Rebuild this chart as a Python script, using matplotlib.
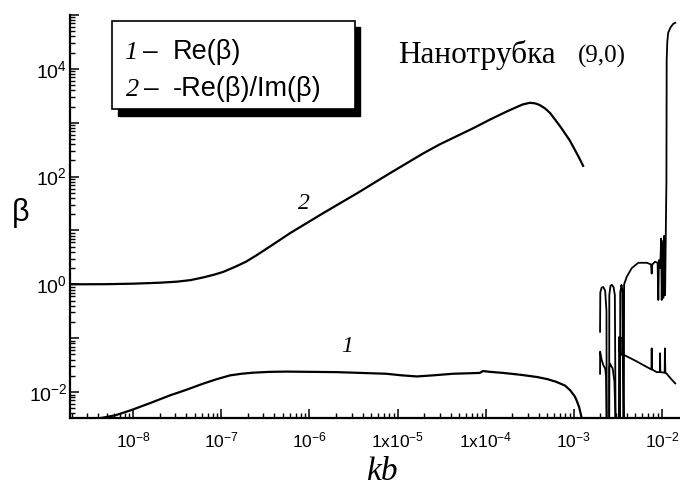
import numpy as np
import matplotlib
matplotlib.use("Agg")
from matplotlib import pyplot as plt
from matplotlib.patches import Rectangle
from matplotlib.ticker import FixedLocator, FixedFormatter, LogLocator, NullFormatter

plt.rcParams["font.family"] = ["Liberation Sans", "DejaVu Sans"]
plt.rcParams["mathtext.fontset"] = "custom"
plt.rcParams["mathtext.rm"] = "Liberation Sans"
plt.rcParams["mathtext.it"] = "Liberation Sans:italic"
plt.rcParams["mathtext.default"] = "regular"

# Data, as log10 values
# curve 2: -Re(beta)/Im(beta), smooth part
c2_kb = [-8.72, -8.3, -8.0, -7.7, -7.5, -7.35, -7.2, -7.08, -6.98, -6.85, -6.72,
         -6.6, -6.45, -6.22, -5.846, -5.46, -5.09, -4.71, -4.52, -4.14, -3.95,
         -3.76, -3.65, -3.58, -3.50, -3.44, -3.39, -3.33, -3.27, -3.20, -3.15,
         -3.10, -3.05, -3.01, -2.95, -2.895]
c2_beta = [0.0, 0.003, 0.012, 0.03, 0.05, 0.078, 0.13, 0.18, 0.23, 0.32, 0.42,
           0.54, 0.70, 0.95, 1.32, 1.69, 2.06, 2.43, 2.60, 2.90, 3.06,
           3.21, 3.29, 3.34, 3.37, 3.36, 3.33, 3.27, 3.18, 3.03, 2.92,
           2.80, 2.68, 2.56, 2.38, 2.20]

# curve 2, noisy part above 2e-3
c2n_kb = [-2.703, -2.700, -2.685, -2.666, -2.645, -2.630, -2.627,
          -2.600, -2.598, -2.585, -2.570, -2.550, -2.535, -2.525,
          -2.476, -2.474, -2.460, -2.450, -2.437,
          -2.433, -2.430, -2.400, -2.344, -2.269, -2.173, -2.125, -2.117, -2.110,
          -2.079, -2.050, -2.042, -2.035, -2.020, -2.010, -2.003, -1.995, -1.985,
          -1.975, -1.965, -1.955, -1.950, -1.947, -1.940, -1.930, -1.900, -1.870, -1.850]
c2n_beta = [-0.88, -0.15, -0.06, -0.05, -0.12, -0.5, -3.0,
            -3.0, -0.2, -0.03, -0.01, -0.05, -0.2, -3.0,
            -3.0, -0.15, -0.01, -0.1, -3.0,
            -3.0, 0.0, 0.14, 0.30, 0.40, 0.40, 0.37, 0.20, 0.37,
            0.42, 0.40, -0.29, 0.45, 0.30, 0.85, -0.29, 0.80, -0.25,
            0.90, -0.20, 1.25, 1.9, 4.17, 4.5, 4.67, 4.78, 4.84, 4.855]

# curve 1: Re(beta), smooth part
c1_kb = [-8.39, -8.2, -8.03, -7.8, -7.58, -7.4, -7.2, -7.05, -6.9, -6.77, -6.64,
         -6.45, -6.26, -5.69, -5.13, -4.95, -4.78, -4.6, -4.37, -4.07, -4.03,
         -3.95, -3.80, -3.6, -3.42, -3.30, -3.20, -3.10, -3.04, -2.99, -2.97,
         -2.94, -2.91]
c1_beta = [-2.49, -2.43, -2.34, -2.20, -2.06, -1.96, -1.84, -1.76, -1.69, -1.66, -1.64,
           -1.625, -1.62, -1.63, -1.66, -1.69, -1.71, -1.69, -1.66, -1.645, -1.61,
           -1.625, -1.645, -1.68, -1.72, -1.76, -1.81, -1.88, -1.97, -2.08, -2.15,
           -2.28, -2.49]

# curve 1, noisy part
c1n_kb = [-2.703, -2.702, -2.685, -2.666, -2.645, -2.635, -2.625,
          -2.600, -2.598, -2.590, -2.575, -2.560, -2.540, -2.520,
          -2.490, -2.487, -2.480, -2.470, -2.465, -2.440, -2.420, -2.300, -2.200,
          -2.120, -2.117, -2.113, -2.060, -2.025, -2.022, -2.019, -1.970, -1.967,
          -1.962, -1.947, -1.900, -1.850]
c1n_beta = [-1.66, -1.25, -1.40, -1.50, -1.56, -1.70, -3.0,
            -3.0, -1.55, -1.47, -1.52, -1.56, -1.8, -3.0,
            -3.0, -0.98, -1.25, -0.98, -1.30, -1.32, -1.32, -1.42, -1.51,
            -1.58, -1.19, -1.58, -1.63, -1.63, -1.28, -1.63, -1.64, -1.19,
            -1.64, -1.66, -1.75, -1.84]

xtick_vals = [1e-8, 1e-7, 1e-6, 1e-5, 1e-4, 1e-3, 1e-2]
xtick_labels = ["$10^{-8}$", "$10^{-7}$", "$10^{-6}$", "$1x10^{-5}$",
                "$1x10^{-4}$", "$10^{-3}$", "$10^{-2}$"]
ytick_vals = [1e-2, 1e-1, 1e0, 1e1, 1e2, 1e3, 1e4, 1e5]
ytick_labels = ["$10^{-2}$", "", "$10^{0}$", "", "$10^{2}$", "", "$10^{4}$", ""]

W, H = 680, 491


def px(x, y):
    return x / W, 1 - y / H


fig = plt.figure(figsize=(6.8, 4.91), dpi=100)
ax = fig.add_axes([70 / W, 1 - 418 / H, 1 - 70 / W, (418 - 15) / H])

ln = dict(color="black", lw=1.6, solid_joinstyle="round")
ax.plot(10.0 ** np.array(c2_kb), 10.0 ** np.array(c2_beta), **ln)
ax.plot(10.0 ** np.array(c2n_kb), 10.0 ** np.array(c2n_beta), color="black", lw=1.3)
ax.plot(10.0 ** np.array(c1_kb), 10.0 ** np.array(c1_beta), **ln)
ax.plot(10.0 ** np.array(c1n_kb), 10.0 ** np.array(c1n_beta), color="black", lw=1.3)

ax.set_xscale("log")
ax.set_yscale("log")
ax.set_xlim(1.92e-9, 1.6e-2)
ax.set_ylim(3.3e-3, 1e5)

for s in ["top", "right"]:
    ax.spines[s].set_visible(False)
for s in ["left", "bottom"]:
    ax.spines[s].set_linewidth(1.6)

ax.xaxis.set_major_locator(FixedLocator(xtick_vals))
ax.xaxis.set_major_formatter(FixedFormatter(xtick_labels))
ax.xaxis.set_minor_locator(LogLocator(base=10, subs=np.arange(2, 10), numticks=20))
ax.xaxis.set_minor_formatter(NullFormatter())
ax.yaxis.set_major_locator(FixedLocator(ytick_vals))
ax.yaxis.set_major_formatter(FixedFormatter(ytick_labels))
ax.yaxis.set_minor_locator(LogLocator(base=10, subs=np.arange(2, 10), numticks=20))
ax.yaxis.set_minor_formatter(NullFormatter())

ax.tick_params(which="major", direction="in", length=6.5, width=1.1)
ax.tick_params(which="minor", direction="in", length=3.5, width=1.0)
ax.tick_params(axis="x", which="major", pad=9, labelsize=12.5)
ax.tick_params(axis="y", which="major", pad=2, labelsize=14)

# axis titles
fig.text(*px(21, 213), "β", fontsize=22, ha="center", va="center")
fig.text(*px(382, 472), "kb", fontsize=24, ha="center", va="center",
         family="Liberation Serif", style="italic")

# curve labels
fig.text(*px(304, 204), "2", fontsize=17, ha="center", va="center",
         family="Liberation Serif", style="italic")
fig.text(*px(347, 346), "1", fontsize=17, ha="center", va="center",
         family="Liberation Serif", style="italic")

# title text
fig.text(*px(398, 63), "Нанотрубка", fontsize=22.5, ha="left", va="baseline",
         family="Liberation Serif")
fig.text(*px(578, 63), "(9,0)", fontsize=18, ha="left", va="baseline",
         family="Liberation Serif")

# legend box with shadow
x0, y0 = px(118, 116)
x1, y1 = px(360, 27)
fig.patches.append(Rectangle((x0, y0), x1 - x0, y1 - y0, transform=fig.transFigure,
                             facecolor="black", edgecolor="black", zorder=5))
x0, y0 = px(112, 109)
x1, y1 = px(355, 21)
fig.patches.append(Rectangle((x0, y0), x1 - x0, y1 - y0, transform=fig.transFigure,
                             facecolor="white", edgecolor="black", lw=1.2, zorder=6))

for yb, num, nx, dx, lab in [(59, "1", 124, 143, "Re(β)"), (96, "2", 126, 144, "-Re(β)/Im(β)")]:
    fig.text(*px(nx, yb), num, fontsize=19, ha="left", va="baseline",
             family="Liberation Serif", style="italic", zorder=7)
    fig.text(*px(dx, yb), "–", fontsize=19, ha="left", va="baseline", zorder=7)
    fig.text(*px(173, yb), lab, fontsize=19.5, ha="left", va="baseline", zorder=7)

fig.savefig("out.png", dpi=100)
